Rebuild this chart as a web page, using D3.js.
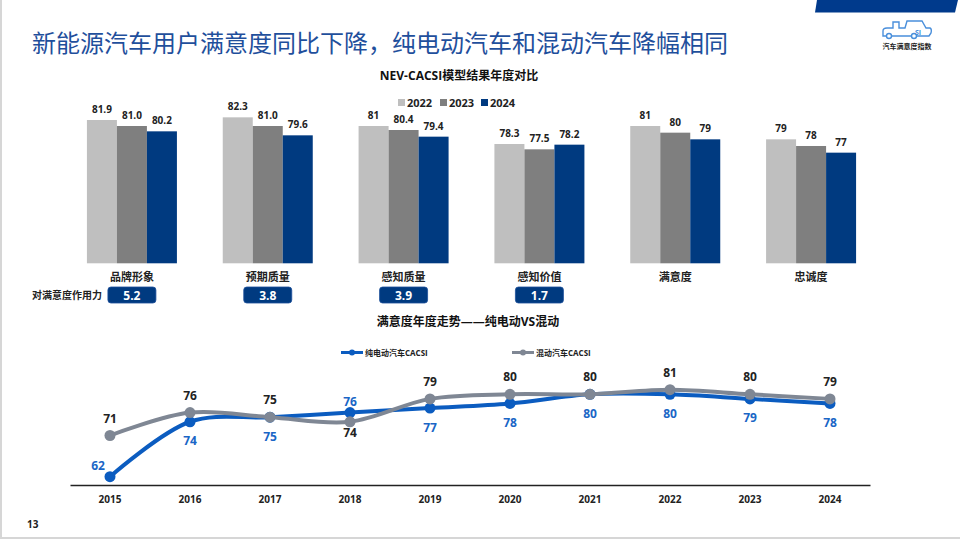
<!DOCTYPE html>
<html>
<head>
<meta charset="utf-8">
<script src="https://cdn.jsdelivr.net/npm/d3@7"></script>
<style>
  html, body { margin: 0; padding: 0; background: #fff; }
  svg { display: block; font-family: "Open Sans", "Noto Sans CJK SC", sans-serif; }
</style>
</head>
<body>
<svg id="chart" width="960" height="541"></svg>
<script>
// ---------- DATA ----------
const categories = ["品牌形象", "预期质量", "感知质量", "感知价值", "满意度", "忠诚度"];
const barYears = ["2022", "2023", "2024"];
const values2022 = [81.9, 82.3, 81, 78.3, 81, 79];
const values2023 = [81.0, 81.0, 80.4, 77.5, 80, 78];
const values2024 = [80.2, 79.6, 79.4, 78.2, 79, 77];
const labels2022 = ["81.9", "82.3", "81", "78.3", "81", "79"];
const labels2023 = ["81.0", "81.0", "80.4", "77.5", "80", "78"];
const labels2024 = ["80.2", "79.6", "79.4", "78.2", "79", "77"];
const impactValues = [5.2, 3.8, 3.9, 1.7];

const lineYears = ["2015", "2016", "2017", "2018", "2019", "2020", "2021", "2022", "2023", "2024"];
const bevValues = [62, 74, 75, 76, 77, 78, 80, 80, 79, 78];
const hybridValues = [71, 76, 75, 74, 79, 80, 80, 81, 80, 79];

// ---------- SETUP ----------
const svg = d3.select("#chart");
const barColors = ["#bfbfbf", "#7f7f7f", "#003a80"];
const blue = "#0b5cc0", gray = "#7f8794", labelBlue = "#1a66c6";

// slide frame
svg.append("line").attr("x1", 1).attr("x2", 1).attr("y1", 0).attr("y2", 538).attr("stroke", "#d6d6d6").attr("stroke-width", 2);
svg.append("line").attr("x1", 0).attr("x2", 960).attr("y1", 538).attr("y2", 538).attr("stroke", "#d6d6d6").attr("stroke-width", 2);

// top-right band
svg.append("path").attr("d", "M817,0 L958,0 L955,12.5 L815,12.5 Z").attr("fill", "#003a8c");

// logo
const logo = svg.append("g").attr("fill", "none").attr("stroke", "#4a8fdb").attr("stroke-width", 1.4);
logo.append("path").attr("d", "M883,36 L883,31 Q883,28 887,28 L893,28 L893,22 L899,22 L899,28 L905,28 L907,21 L922,21 L926,28 L930,28 Q932,29 931,33 L929,36 Z");
logo.append("circle").attr("cx", 889).attr("cy", 36).attr("r", 2.5).attr("fill", "#fff");
logo.append("circle").attr("cx", 914).attr("cy", 36).attr("r", 2.5).attr("fill", "#fff");
svg.append("text").attr("x", 918).attr("y", 35).attr("font-size", 7).attr("font-weight", 700).attr("fill", "#4a8fdb").attr("text-anchor", "middle").text("SI");
svg.append("text").attr("x", 907).attr("y", 49).attr("font-size", 7).attr("font-weight", 700).attr("fill", "#222").attr("text-anchor", "middle").text("汽车满意度指数");

// main title
svg.append("text").attr("x", 32).attr("y", 52).attr("font-size", 24).attr("fill", "#1f4f9c")
  .attr("font-family", "Noto Sans CJK SC, sans-serif")
  .text("新能源汽车用户满意度同比下降，纯电动汽车和混动汽车降幅相同");

// ---------- BAR CHART ----------
svg.append("text").attr("x", 459).attr("y", 80).attr("text-anchor", "middle").attr("font-size", 12).attr("font-weight", 700).attr("fill", "#111")
  .text("NEV-CACSI模型结果年度对比");

// legend
const legendX = [398, 440, 481];
barYears.forEach((y, i) => {
  svg.append("rect").attr("x", legendX[i]).attr("y", 99).attr("width", 7).attr("height", 7).attr("fill", barColors[i]);
  svg.append("text").attr("x", legendX[i] + 9).attr("y", 106.5).attr("font-size", 11).attr("font-weight", 700).attr("fill", "#222").text(y);
});

const xGroup = d3.scaleBand().domain(categories).range([64, 879]).padding(0);
const xInner = d3.scaleBand().domain(barYears).range([-45, 45]).padding(0);
const yBar = d3.scaleLinear().domain([60.4, 81]).range([263.3, 126]);

const seriesVals = [values2022, values2023, values2024];
const seriesLabels = [labels2022, labels2023, labels2024];

categories.forEach((c, ci) => {
  const cx = xGroup(c) + xGroup.bandwidth() / 2;
  const g = svg.append("g").attr("transform", `translate(${cx},0)`);
  barYears.forEach((yr, si) => {
    const v = seriesVals[si][ci];
    g.append("rect").attr("x", xInner(yr)).attr("width", xInner.bandwidth())
      .attr("y", yBar(v)).attr("height", yBar.range()[0] - yBar(v)).attr("fill", barColors[si]);
    g.append("text").attr("x", xInner(yr) + xInner.bandwidth() / 2).attr("y", yBar(v) - 7)
      .attr("text-anchor", "middle").attr("font-size", 10).attr("font-weight", 700).attr("fill", "#222")
      .text(seriesLabels[si][ci]);
  });
  g.append("text").attr("x", 0).attr("y", 281).attr("text-anchor", "middle").attr("font-size", 11).attr("font-weight", 700).attr("fill", "#222").text(c);
  if (ci < impactValues.length) {
    g.append("rect").attr("x", -24).attr("y", 287).attr("width", 48).attr("height", 16).attr("rx", 3)
      .attr("fill", "#003a80").attr("stroke", "#1d4f9a").attr("stroke-width", 0.8);
    g.append("text").attr("x", 0).attr("y", 299.5).attr("text-anchor", "middle").attr("font-size", 12).attr("font-weight", 700).attr("fill", "#fff")
      .text(impactValues[ci].toFixed(1));
  }
});
svg.append("text").attr("x", 32).attr("y", 299).attr("font-size", 10).attr("font-weight", 700).attr("fill", "#222").text("对满意度作用力");

// ---------- LINE CHART ----------
svg.append("text").attr("x", 468).attr("y", 326).attr("text-anchor", "middle").attr("font-size", 12).attr("font-weight", 700).attr("fill", "#111")
  .text("满意度年度走势——纯电动VS混动");

// legend
const lineLegend = [{name: "纯电动汽车CACSI", color: blue, x: 341}, {name: "混动汽车CACSI", color: gray, x: 512}];
lineLegend.forEach(d => {
  svg.append("line").attr("x1", d.x).attr("x2", d.x + 22).attr("y1", 352.5).attr("y2", 352.5).attr("stroke", d.color).attr("stroke-width", 3);
  svg.append("circle").attr("cx", d.x + 11).attr("cy", 352.5).attr("r", 3).attr("fill", d.color);
  svg.append("text").attr("x", d.x + 24).attr("y", 355.5).attr("font-size", 8).attr("font-weight", 700).attr("fill", "#222").text(d.name);
});

const xLine = d3.scaleBand().domain(lineYears).range([70, 870]).padding(0);
const yLine = d3.scaleLinear().domain([62, 80]).range([476.7, 394.3]);
const xc = y => xLine(y) + xLine.bandwidth() / 2;

const xAxis = d3.axisBottom(xLine).tickSize(0).tickPadding(11);
const axisG = svg.append("g").attr("transform", "translate(0,485)").call(xAxis);
axisG.select(".domain").attr("stroke", "#222").attr("stroke-width", 1.5);
axisG.selectAll("text").attr("font-size", 10).attr("font-weight", 700).attr("fill", "#222").attr("font-family", "Open Sans, sans-serif");

const lineGen = d3.line().x((d, i) => xc(lineYears[i])).y(d => yLine(d)).curve(d3.curveCatmullRom.alpha(0.5));

function drawSeries(vals, color) {
  svg.append("path").datum(vals).attr("d", lineGen).attr("fill", "none").attr("stroke", color).attr("stroke-width", 4).attr("stroke-linecap", "round");
  svg.selectAll(null).data(vals).enter().append("circle")
    .attr("cx", (d, i) => xc(lineYears[i])).attr("cy", d => yLine(d)).attr("r", 5.5).attr("fill", color);
}
drawSeries(bevValues, blue);
drawSeries(hybridValues, gray);

// labels
lineYears.forEach((yr, i) => {
  const x = xc(yr);
  const hb = hybridValues[i], bv = bevValues[i];
  let hyOff = -17.5, bvOff = 19, bvDx = 0;
  if (yr === "2018") { hyOff = 11; bvOff = -11; }
  if (yr === "2015") { bvOff = -11; bvDx = -12; }
  svg.append("text").attr("x", x).attr("y", yLine(hb) + hyOff + 4.5).attr("text-anchor", "middle")
    .attr("font-size", 12).attr("font-weight", 700).attr("fill", "#222").text(hb);
  svg.append("text").attr("x", x + bvDx).attr("y", yLine(bv) + bvOff + 4.5).attr("text-anchor", "middle")
    .attr("font-size", 12).attr("font-weight", 700).attr("fill", labelBlue).text(bv);
});

// page number
svg.append("text").attr("x", 27).attr("y", 528).attr("font-size", 10).attr("font-weight", 700).attr("fill", "#222").text("13");
</script>
</body>
</html>
